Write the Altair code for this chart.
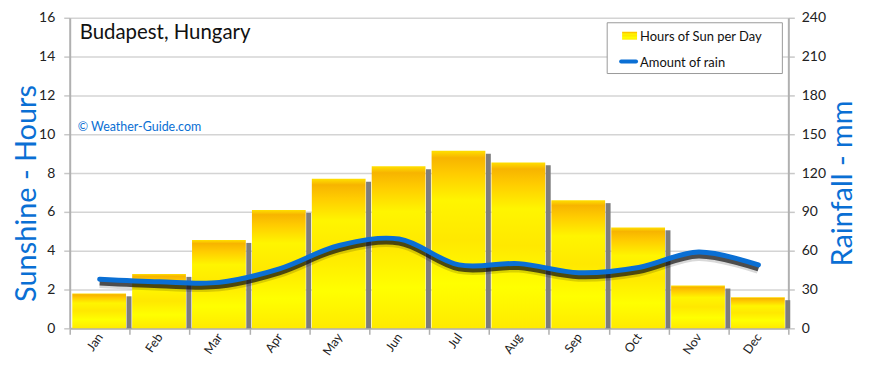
import altair as alt
import pandas as pd

months = ["Jan", "Feb", "Mar", "Apr", "May", "Jun", "Jul", "Aug", "Sep", "Oct", "Nov", "Dec"]
sun_hours = [1.8, 2.8, 4.55, 6.1, 7.7, 8.35, 9.15, 8.55, 6.6, 5.2, 2.2, 1.6]
rain_mm = [38, 36, 35.5, 46, 64, 69, 49, 50, 43, 47, 59, 49]
left_ticks = [0, 2, 4, 6, 8, 10, 12, 14, 16]
right_ticks = [0, 30, 60, 90, 120, 150, 180, 210, 240]

df = pd.DataFrame({"month": months, "sun": sun_hours, "rain": rain_mm})

FONT = "Lato"
BLUE = "#0a6fd4"
W, H = 722, 312

x_enc = alt.X(
    "month:N", sort=months, title=None,
    scale=alt.Scale(paddingInner=0, paddingOuter=0),
    axis=alt.Axis(labelAngle=-55, labelAlign="right", labelBaseline="middle",
                  tickBand="extent", tickColor="#b0b0b0", tickSize=6, tickWidth=1.5,
                  domainColor="#b0b0b0", domainWidth=2, labelFont=FONT, labelFontSize=12.5,
                  labelColor="#222", labelPadding=0, grid=False),
)

sun_axis = alt.Axis(values=left_ticks, grid=True, gridColor="#d4d4d4", gridWidth=1.5,
                    domainColor="#b0b0b0", domainWidth=2, tickColor="#c8c8c8", tickSize=6,
                    tickWidth=1.5, labelFont=FONT, labelFontSize=14, labelColor="#222",
                    labelPadding=9, titleFont=FONT, titleFontSize=29, titleFontWeight="normal",
                    titleColor=BLUE, titleX=-43, titleY=176, titleAngle=270,
                    titleAlign="center", titleBaseline="middle")
sun_scale = alt.Scale(domain=[0, 16], nice=False)

rain_axis = alt.Axis(orient="right", values=right_ticks, grid=False, domainColor="#b0b0b0",
                     domainWidth=2, tickColor="#c8c8c8", tickSize=6, tickWidth=1.5,
                     labelFont=FONT, labelFontSize=14, labelColor="#222", labelPadding=7,
                     titleFont=FONT, titleFontSize=29, titleFontWeight="normal", titleColor=BLUE,
                     titleX=54, titleY=166, titleAngle=270, titleAlign="center",
                     titleBaseline="middle")
rain_scale = alt.Scale(domain=[0, 240], nice=False)

gradient = alt.Gradient(
    gradient="linear", x1=0, x2=0, y1=0, y2=1,
    stops=[
        alt.GradientStop(offset=0, color="#ffe000"),
        alt.GradientStop(offset=0.04, color="#f7b400"),
        alt.GradientStop(offset=0.13, color="#ffcc00"),
        alt.GradientStop(offset=0.28, color="#fff500"),
        alt.GradientStop(offset=0.5, color="#ffe800"),
        alt.GradientStop(offset=0.75, color="#ffff00"),
        alt.GradientStop(offset=1, color="#ffea00"),
    ],
)

base = alt.Chart(df)
one = base.transform_filter("datum.month == 'Jan'")

shadow = base.transform_calculate(stop="datum.sun - 0.15").mark_rule(
    color="#7d7d7d", strokeWidth=5, xOffset=29.5
).encode(x=x_enc,
         y=alt.Y("stop:Q", title="Sunshine - Hours", scale=sun_scale, axis=sun_axis),
         y2=alt.datum(0))

bars = base.mark_bar(size=54, fill=gradient, xOffset=-0.5).encode(
    x=x_enc, y=alt.Y("sun:Q", title="Sunshine - Hours", scale=sun_scale, axis=sun_axis))

title_txt = one.mark_text(text="Budapest, Hungary", font=FONT, fontSize=20.5, color="#111",
                          align="left", baseline="middle").encode(x=alt.value(10), y=alt.value(15))
copy_txt = one.mark_text(text="©  Weather-Guide.com", font=FONT, fontSize=12.5, color=BLUE,
                         align="left", baseline="middle").encode(x=alt.value(8), y=alt.value(110))

leg_box = one.mark_rect(fill="white", stroke="#999", strokeWidth=1).encode(
    x=alt.value(540), x2=alt.value(716), y=alt.value(5), y2=alt.value(56))
leg_sw = one.mark_rect(fill=gradient).encode(
    x=alt.value(555), x2=alt.value(570), y=alt.value(14), y2=alt.value(22))
leg_ln = one.mark_rule(color=BLUE, strokeWidth=4, strokeCap="round").encode(
    x=alt.value(554), x2=alt.value(569), y=alt.value(44))
leg_t1 = one.mark_text(text="Hours of Sun per Day", font=FONT, fontSize=13, color="#111",
                       align="left", baseline="middle").encode(x=alt.value(573), y=alt.value(19))
leg_t2 = one.mark_text(text="Amount of rain", font=FONT, fontSize=13, color="#111",
                       align="left", baseline="middle").encode(x=alt.value(573), y=alt.value(45))

y_rain = alt.Y("rain:Q", title="Rainfall - mm", scale=rain_scale, axis=rain_axis)

line_blur = base.mark_line(interpolate="catmull-rom", color="#000", opacity=0.15, strokeWidth=10,
                           yOffset=4).encode(x=x_enc, y=y_rain)
line_sh = base.mark_line(interpolate="catmull-rom", color="#111", opacity=0.7, strokeWidth=5,
                         yOffset=4).encode(x=x_enc, y=y_rain)
line = base.mark_line(interpolate="catmull-rom", color=BLUE, strokeWidth=5,
                      strokeCap="round").encode(x=x_enc, y=y_rain)

left = alt.layer(shadow, bars, title_txt, copy_txt, leg_box, leg_sw, leg_ln, leg_t1, leg_t2)
right = alt.layer(line_blur, line_sh, line)

chart = alt.layer(left, right).resolve_scale(y="independent").properties(
    width=W, height=H,
    autosize=alt.AutoSizeParams(type="none"),
    padding={"left": 62, "top": 9, "right": 74, "bottom": 31},
).configure_view(stroke=None)

chart.save("out.html", embed_options={"renderer": "svg", "actions": False})
